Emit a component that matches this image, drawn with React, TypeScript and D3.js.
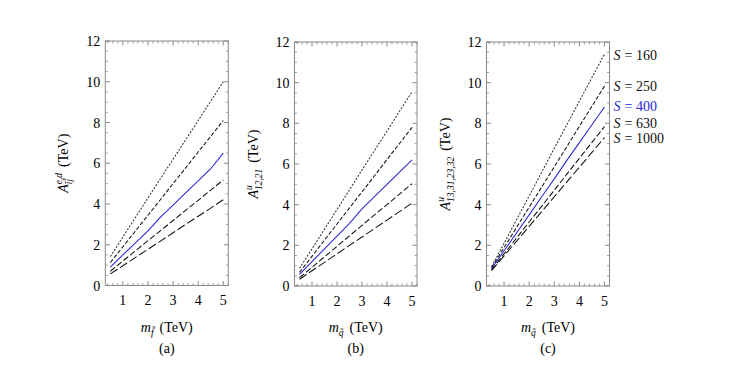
import React from "react";
import * as d3 from "d3";

// ---- data ----
const xs = [0.5, 1, 2, 2.5, 3, 3.5, 4, 4.5, 5];
const sLabels = ["160", "250", "400", "630", "1000"];

const panelA = [
  [1.42, 2.38, 4.3, 5.25, 6.2, 7.15, 8.1, 9.05, 10.0],
  [1.13, 1.9, 3.45, 4.22, 5.0, 5.77, 6.55, 7.32, 8.1],
  [0.9, 1.5, 2.68, 3.36, 3.95, 4.55, 5.14, 5.73, 6.5],
  [0.7, 1.2, 2.2, 2.69, 3.19, 3.69, 4.18, 4.68, 5.18],
  [0.57, 0.97, 1.78, 2.18, 2.59, 3.0, 3.4, 3.8, 4.21],
];
const panelB = [
  [0.87, 1.83, 3.76, 4.73, 5.7, 6.66, 7.62, 8.59, 9.55],
  [0.67, 1.46, 3.05, 3.84, 4.63, 5.42, 6.22, 7.01, 7.8],
  [0.57, 1.2, 2.45, 3.08, 3.79, 4.39, 5.0, 5.6, 6.2],
  [0.41, 0.92, 1.95, 2.47, 2.98, 3.5, 4.0, 4.52, 5.03],
  [0.33, 0.75, 1.58, 2.0, 2.41, 2.83, 3.24, 3.66, 4.07],
];
const panelC = [
  [0.95, 2.1, 4.43, 5.6, 6.77, 7.93, 9.09, 10.25, 11.4],
  [0.9, 1.89, 3.88, 4.87, 5.86, 6.85, 7.85, 8.84, 9.83],
  [0.85, 1.73, 3.5, 4.39, 5.27, 6.18, 7.05, 7.93, 8.8],
  [0.8, 1.58, 3.15, 3.93, 4.71, 5.5, 6.28, 7.06, 7.84],
  [0.75, 1.48, 2.93, 3.66, 4.39, 5.12, 5.84, 6.57, 7.3],
];
const xTicks = [1, 2, 3, 4, 5];
const yTicks = [0, 2, 4, 6, 8, 10, 12];
const captions = ["(a)", "(b)", "(c)"];

// ---- styles ----
const FONT = "Liberation Serif, Times New Roman, serif";
const BLUE = "rgb(40,40,215)";
const styles = [
  { color: "#333", dash: "2,1.5" },
  { color: "#111", dash: "4,2" },
  { color: BLUE, dash: "" },
  { color: "#111", dash: "6,2.5" },
  { color: "#111", dash: "8.5,3" },
];
const labelOffsets = [0.5, 0, -1, -4, 0];

type Panel = {
  left: number; right: number; top: number; bottom: number;
  data: number[][]; yLabel: React.ReactNode; xSub: string; caption: string; legend?: boolean;
};

const txt = { fontFamily: FONT } as React.CSSProperties;

function Frame({ p }: { p: Panel }) {
  const x = d3.scaleLinear().domain([0.3, 5.2]).range([p.left, p.right]);
  const y = d3.scaleLinear().domain([0, 12]).range([p.bottom, p.top]);
  const line = d3.line<number>().x((_, i) => x(xs[i])).y((v) => y(v));
  const xMinor = d3.range(0.4, 5.21, 0.2).filter((v) => Math.abs(v - Math.round(v)) > 0.01);
  const yMinor = d3.range(0, 12.01, 0.5).filter((v) => v % 2 !== 0);
  const fc = "#8a8a8a";
  const cx = (p.left + p.right) / 2;
  const cy = (p.top + p.bottom) / 2;
  return (
    <g>
      {p.data.map((s, i) => (
        <path key={i} d={line(s) || ""} fill="none" stroke={styles[i].color}
          strokeWidth={1.05} strokeDasharray={styles[i].dash} />
      ))}
      <rect x={p.left} y={p.top} width={p.right - p.left} height={p.bottom - p.top}
        fill="none" stroke={fc} strokeWidth={1} />
      {xTicks.map((t) => (
        <g key={"xt" + t}>
          <line x1={x(t)} x2={x(t)} y1={p.bottom} y2={p.bottom - 4.5} stroke={fc} />
          <line x1={x(t)} x2={x(t)} y1={p.top} y2={p.top + 4.5} stroke={fc} />
          <text x={x(t)} y={p.bottom + 19.5} textAnchor="middle" fontSize={14} style={txt}>{t}</text>
        </g>
      ))}
      {xMinor.map((t, i) => (
        <g key={"xm" + i}>
          <line x1={x(t)} x2={x(t)} y1={p.bottom} y2={p.bottom - 2.5} stroke={fc} strokeWidth={0.8} />
          <line x1={x(t)} x2={x(t)} y1={p.top} y2={p.top + 2.5} stroke={fc} strokeWidth={0.8} />
        </g>
      ))}
      {yTicks.map((t) => (
        <g key={"yt" + t}>
          <line x1={p.left} x2={p.left + 4.5} y1={y(t)} y2={y(t)} stroke={fc} />
          <line x1={p.right} x2={p.right - 4.5} y1={y(t)} y2={y(t)} stroke={fc} />
          <text x={p.left - 5} y={y(t) + 5} textAnchor="end" fontSize={14} style={txt}>{t}</text>
        </g>
      ))}
      {yMinor.map((t, i) => (
        <g key={"ym" + i}>
          <line x1={p.left} x2={p.left + 2.5} y1={y(t)} y2={y(t)} stroke={fc} strokeWidth={0.8} />
          <line x1={p.right} x2={p.right - 2.5} y1={y(t)} y2={y(t)} stroke={fc} strokeWidth={0.8} />
        </g>
      ))}
      <g transform={`translate(${p.left - 37},${cy}) rotate(-90)`}>{p.yLabel}</g>
      <text x={cx} y={332} textAnchor="middle" fontSize={14} style={txt}>
        <tspan fontStyle="italic">m</tspan>
        <tspan fontStyle="italic" fontSize={9.5} dy={4}>{p.xSub}</tspan>
        <tspan dy={-4} dx={6}>(TeV)</tspan>
      </text>
      <text x={cx} y={353} textAnchor="middle" fontSize={14} style={txt}>{p.caption}</text>
      {p.legend && p.data.map((s, i) => (
        <text key={"lg" + i} x={p.right + 4} y={y(s[s.length - 1]) + labelOffsets[i] + 5}
          fontSize={14} style={txt} fill={i === 2 ? BLUE : "#111"}>
          <tspan fontStyle="italic">S</tspan>
          <tspan dx={4}>= {sLabels[i]}</tspan>
        </text>
      ))}
    </g>
  );
}

function YLabel({ sup, sub, supW, subW }: { sup: string; sub: string; supW: number; subW: number }) {
  return (
    <text x={0} y={0} textAnchor="middle" fontSize={14} style={txt}>
      <tspan fontStyle="italic">A</tspan>
      <tspan fontStyle="italic" fontSize={9.5} dy={-6}>{sup}</tspan>
      <tspan fontStyle="italic" fontSize={9.5} dx={-supW} dy={10}>{sub}</tspan>
      <tspan dy={-4} dx={Math.max(supW - subW, 0) + 6}>(TeV)</tspan>
    </text>
  );
}

export default function App() {
  const panels: Panel[] = [
    {
      left: 105.3, right: 228.3, top: 41, bottom: 285.5, data: panelA,
      yLabel: <YLabel sup="e,d" sub={"\u0129j\u0303"} supW={11.3} subW={5.3} />,
      xSub: "f\u0303", caption: captions[0],
    },
    {
      left: 294.5, right: 417, top: 42, bottom: 286, data: panelB,
      yLabel: <YLabel sup="u" sub="12,21" supW={4.8} subW={21.4} />,
      xSub: "q\u0303", caption: captions[1],
    },
    {
      left: 486.5, right: 609.5, top: 42, bottom: 286, data: panelC,
      yLabel: <YLabel sup="u" sub="13,31,23,32" supW={4.8} subW={45} />,
      xSub: "q\u0303", caption: captions[2], legend: true,
    },
  ];
  return (
    <svg width={750} height={371} style={{ position: "absolute", left: 0, top: 0, background: "#fff", fontFamily: FONT }}>
      <rect width={750} height={371} fill="#fff" />
      {panels.map((p, i) => <Frame key={i} p={p} />)}
    </svg>
  );
}
